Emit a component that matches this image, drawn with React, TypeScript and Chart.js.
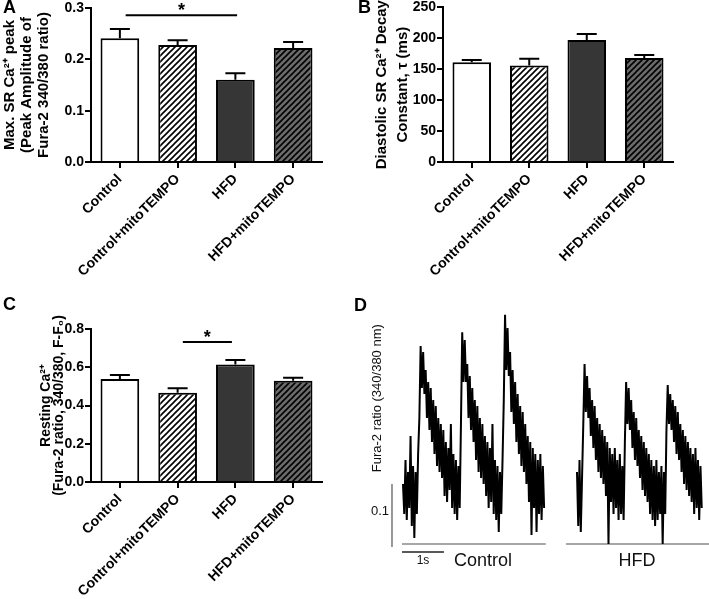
import React, { useEffect, useRef } from "react";
import { Chart, registerables } from "chart.js";

Chart.register(...registerables);
Chart.defaults.font.family = "'Liberation Sans', Arial, Helvetica, sans-serif";
Chart.defaults.color = "#000";

// ---------------- data ----------------
const categories = ["Control", "Control+mitoTEMPO", "HFD", "HFD+mitoTEMPO"];

const peakMeans = [0.241, 0.228, 0.16, 0.222];
const peakSems = [0.018, 0.009, 0.013, 0.012];

const tauMeans = [161, 156, 197, 168];
const tauSems = [4, 11, 10, 5];

const restMeans = [0.538, 0.467, 0.615, 0.53];
const restSems = [0.021, 0.023, 0.023, 0.015];

// significance brackets (category index positions, value)
const peakSig = { from: 0.1, to: 2.03, y: 0.286 };
const restSig = { from: 1.09, to: 1.94, y: 0.732 };

// Fura-2 ratio traces (ratio units above the trace baseline), sampled every 0.03 s
const sampleInterval = 0.03;
const controlTrace = [
  0.10, 0.05, 0.14, 0.04, 0.12, 0.06, 0.18, 0.03, 0.13, 0.01, 0.12, 0.05, 0.15,
  0.21, 0.33,
  0.26, 0.32, 0.25,
  0.29, 0.21, 0.27, 0.19, 0.26,
  0.17, 0.24, 0.15, 0.23, 0.13, 0.21, 0.12, 0.2, 0.11,
  0.19, 0.08, 0.17, 0.07, 0.16, 0.09, 0.2, 0.06,
  0.15, 0.05, 0.14, 0.04, 0.13, 0.06,
  0.2, 0.353,
  0.27, 0.34, 0.27,
  0.3, 0.21, 0.28, 0.19, 0.26,
  0.17, 0.24, 0.14, 0.23, 0.12, 0.21, 0.11, 0.2, 0.1,
  0.18, 0.08, 0.17, 0.06, 0.16, 0.07, 0.2, 0.05,
  0.14, 0.04, 0.13, 0.02, 0.12, 0.05, 0.14,
  0.24, 0.382,
  0.29, 0.36, 0.28,
  0.32, 0.22, 0.29, 0.2, 0.27,
  0.17, 0.25, 0.15, 0.23, 0.13, 0.22, 0.12, 0.2, 0.1,
  0.18, 0.07, 0.17, 0.015, 0.16, 0.06, 0.15, 0.02,
  0.14, 0.05, 0.15, 0.04, 0.13, 0.06,
];
const hfdTrace = [
  0.12, 0.03, 0.14, 0.02, 0.11,
  0.2, 0.3,
  0.22, 0.28, 0.21,
  0.26, 0.18, 0.24, 0.16, 0.23,
  0.14, 0.21, 0.12, 0.2, 0.11, 0.19, 0.1, 0.18, 0.08,
  0.17, 0.0, 0.16, 0.07, 0.15, 0.05, 0.16, 0.06,
  0.14, 0.04, 0.15, 0.05, 0.13, 0.04,
  0.17, 0.27,
  0.2, 0.26, 0.19,
  0.24, 0.16, 0.22, 0.14, 0.21,
  0.13, 0.19, 0.11, 0.18, 0.09, 0.17, 0.08, 0.16, 0.07,
  0.15, 0.05, 0.14, 0.04, 0.13, 0.03, 0.14, 0.04, 0.12, 0.05, 0.13,
  0.0,
  0.12, 0.05, 0.19,
  0.265,
  0.2, 0.25, 0.19,
  0.24, 0.17, 0.23, 0.15, 0.22,
  0.14, 0.2, 0.12, 0.19, 0.1, 0.18, 0.09, 0.17, 0.08,
  0.16, 0.07, 0.15, 0.05, 0.16, 0.06, 0.14, 0.04, 0.13, 0.06,
];
const hfdStart = 4.143; // s, where the HFD record is placed on the shared time axis
const scaleBarRatio = 0.1;
const scaleBarTime = 1;

// ---------------- helpers ----------------
const FONT = "'Liberation Sans', Arial, Helvetica, sans-serif";

function hatch(bg: string): CanvasPattern | string {
  const s = 6;
  const c = document.createElement("canvas");
  c.width = s;
  c.height = s;
  const g = c.getContext("2d");
  if (!g) return bg;
  g.fillStyle = bg;
  g.fillRect(0, 0, s, s);
  g.strokeStyle = "#000";
  g.lineWidth = 1.6;
  g.beginPath();
  g.moveTo(0, s);
  g.lineTo(s, 0);
  g.moveTo(-1, 1);
  g.lineTo(1, -1);
  g.moveTo(s - 1, s + 1);
  g.lineTo(s + 1, s - 1);
  g.stroke();
  return g.createPattern(c, "repeat") || bg;
}

type Area = { left: number; top: number; right: number; bottom: number };
type Sig = { from: number; to: number; y: number };
type BarSpec = {
  width: number;
  height: number;
  area: Area;
  yMax: number;
  yStep: number;
  decimals: number;
  means: number[];
  sems: number[];
  title: string[];
  titleSize: number;
  titleLine: number;
  titlePad: number;
  sig?: Sig;
};

function makeBarConfig(p: BarSpec): any {
  const fills = ["#ffffff", hatch("#ffffff"), "#363636", hatch("#6b6b6b")];
  const axisGrid = {
    display: true,
    drawOnChartArea: false,
    drawTicks: true,
    tickLength: 6,
    color: "#000",
    lineWidth: 2,
  };
  const errorPlugin = {
    id: "errbars",
    afterDatasetsDraw(chart: any) {
      const { ctx } = chart;
      const ys = chart.scales.y;
      const meta = chart.getDatasetMeta(0);
      ctx.save();
      ctx.strokeStyle = "#000";
      ctx.lineWidth = 2;
      meta.data.forEach((bar: any, i: number) => {
        const y0 = ys.getPixelForValue(p.means[i]);
        const y1 = ys.getPixelForValue(p.means[i] + p.sems[i]);
        ctx.beginPath();
        ctx.moveTo(bar.x, y0);
        ctx.lineTo(bar.x, y1);
        ctx.moveTo(bar.x - 10, y1);
        ctx.lineTo(bar.x + 10, y1);
        ctx.stroke();
      });
      ctx.restore();
    },
  };
  const sigPlugin = {
    id: "sig",
    afterDraw(chart: any) {
      if (!p.sig) return;
      const { ctx } = chart;
      const xs = chart.scales.x;
      const ys = chart.scales.y;
      const x0 = xs.getPixelForValue(p.sig.from);
      const x1 = xs.getPixelForValue(p.sig.to);
      const y = ys.getPixelForValue(p.sig.y);
      ctx.save();
      ctx.strokeStyle = "#000";
      ctx.lineWidth = 2;
      ctx.beginPath();
      ctx.moveTo(x0, y);
      ctx.lineTo(x1, y);
      ctx.stroke();
      ctx.fillStyle = "#000";
      ctx.font = `bold 18px ${FONT}`;
      ctx.textAlign = "center";
      ctx.textBaseline = "alphabetic";
      ctx.fillText("*", (x0 + x1) / 2, y + 1);
      ctx.restore();
    },
  };
  return {
    type: "bar",
    data: {
      labels: categories,
      datasets: [
        {
          data: p.means,
          backgroundColor: fills,
          borderColor: "#000",
          borderWidth: 2,
          borderSkipped: "start",
          barPercentage: 0.67,
          categoryPercentage: 1,
        },
      ],
    },
    options: {
      animation: false,
      responsive: false,
      maintainAspectRatio: false,
      layout: {
        padding: { left: 0, top: p.area.top, right: p.width - p.area.right, bottom: 0 },
      },
      plugins: {
        legend: { display: false },
        tooltip: { enabled: false },
        title: { display: false },
      },
      scales: {
        x: {
          type: "category",
          offset: true,
          grid: { ...axisGrid, offset: false },
          border: { display: true, color: "#000", width: 2 },
          ticks: {
            color: "#000",
            font: { size: 14, weight: "bold" },
            minRotation: 45,
            maxRotation: 45,
            autoSkip: false,
            padding: 3,
          },
          afterFit: (s: any) => {
            s.height = p.height - p.area.bottom;
          },
        },
        y: {
          min: 0,
          max: p.yMax,
          grid: axisGrid,
          border: { display: true, color: "#000", width: 2 },
          ticks: {
            stepSize: p.yStep,
            color: "#000",
            font: { size: 14, weight: "bold", lineHeight: 0.9 },
            padding: 1,
            callback: (v: any) => Number(v).toFixed(p.decimals),
          },
          title: {
            display: true,
            text: p.title,
            color: "#000",
            font: { size: p.titleSize, weight: "bold", lineHeight: `${p.titleLine}px` },
            padding: { top: p.titlePad, bottom: 0 },
          },
          afterFit: (s: any) => {
            s.width = p.area.left;
          },
        },
      },
    },
    plugins: [errorPlugin, sigPlugin],
  };
}

function makeTraceConfig(): any {
  const line = (data: any[], color: string, width: number) => ({
    data,
    borderColor: color,
    borderWidth: width,
    pointRadius: 0,
    tension: 0,
    fill: false,
  });
  const textPlugin = {
    id: "traceText",
    afterDraw(chart: any) {
      const { ctx } = chart;
      const xs = chart.scales.x;
      const ys = chart.scales.y;
      const X = (v: number) => xs.getPixelForValue(v);
      const Y = (v: number) => ys.getPixelForValue(v);
      ctx.save();
      ctx.fillStyle = "#111";
      ctx.textAlign = "center";
      ctx.textBaseline = "middle";
      ctx.font = `18px ${FONT}`;
      ctx.fillText("Control", X(1.905), Y(-0.0283));
      ctx.fillText("HFD", X(5.571), Y(-0.0283));
      ctx.font = `12px ${FONT}`;
      ctx.fillText("1s", X(0.476), Y(-0.0283));
      ctx.font = `13px ${FONT}`;
      ctx.fillText("0.1", X(-0.548), Y(0.055));
      ctx.translate(X(-0.619), Y(0.243));
      ctx.rotate(-Math.PI / 2);
      ctx.fillText("Fura-2 ratio (340/380 nm)", 0, 0);
      ctx.restore();
    },
  };
  return {
    type: "line",
    data: {
      datasets: [
        line(controlTrace.map((v, i) => ({ x: i * sampleInterval, y: v })), "#000", 2),
        line(hfdTrace.map((v, i) => ({ x: hfdStart + i * sampleInterval, y: v })), "#000", 2),
        line([{ x: -0.024, y: 0 }, { x: 3.4, y: 0 }], "#8a8a8a", 1.5),
        line([{ x: 3.88, y: 0 }, { x: 7.4, y: 0 }], "#8a8a8a", 1.5),
        line([{ x: -0.262, y: -0.005 }, { x: -0.262, y: scaleBarRatio }], "#555", 1.2),
        line([{ x: -0.024, y: -0.0133 }, { x: -0.024 + scaleBarTime, y: -0.0133 }], "#222", 1.5),
      ],
    },
    options: {
      animation: false,
      responsive: false,
      maintainAspectRatio: false,
      layout: { padding: 0 },
      plugins: { legend: { display: false }, tooltip: { enabled: false } },
      scales: {
        x: { type: "linear", min: -0.976, max: 7.286, display: false },
        y: { type: "linear", min: -0.0917, max: 0.4067, display: false },
      },
    },
    plugins: [textPlugin],
  };
}

function ChartBox(props: { left: number; top: number; width: number; height: number; make: () => any }) {
  const ref = useRef<HTMLCanvasElement | null>(null);
  useEffect(() => {
    if (!ref.current) return;
    const chart = new Chart(ref.current, props.make());
    return () => chart.destroy();
  }, []);
  return (
    <canvas
      ref={ref}
      width={props.width}
      height={props.height}
      style={{ position: "absolute", left: props.left, top: props.top, width: props.width, height: props.height }}
    />
  );
}

const letterStyle = (left: number, top: number): React.CSSProperties => ({
  position: "absolute",
  left,
  top,
  font: `bold 18px ${FONT}`,
  lineHeight: "18px",
  color: "#000",
});

export default function App() {
  return (
    <div style={{ position: "absolute", left: 0, top: 0, width: 709, height: 599, background: "#fff", overflow: "hidden" }}>
      <ChartBox
        left={0}
        top={0}
        width={340}
        height={300}
        make={() =>
          makeBarConfig({
            width: 340,
            height: 300,
            area: { left: 91, top: 8, right: 322, bottom: 162 },
            yMax: 0.3,
            yStep: 0.1,
            decimals: 1,
            means: peakMeans,
            sems: peakSems,
            title: ["Max. SR Ca²⁺ peak", "(Peak Amplitude of", "Fura-2 340/380 ratio)"],
            titleSize: 15,
            titleLine: 16.7,
            titlePad: 2,
            sig: peakSig,
          })
        }
      />
      <ChartBox
        left={360}
        top={0}
        width={349}
        height={300}
        make={() =>
          makeBarConfig({
            width: 349,
            height: 300,
            area: { left: 83, top: 7, right: 313, bottom: 162 },
            yMax: 250,
            yStep: 50,
            decimals: 0,
            means: tauMeans,
            sems: tauSems,
            title: ["Diastolic SR Ca²⁺ Decay", "Constant, τ (ms)"],
            titleSize: 15,
            titleLine: 21,
            titlePad: 11.5,
          })
        }
      />
      <ChartBox
        left={0}
        top={300}
        width={340}
        height={299}
        make={() =>
          makeBarConfig({
            width: 340,
            height: 299,
            area: { left: 91, top: 29, right: 322, bottom: 182 },
            yMax: 0.8,
            yStep: 0.2,
            decimals: 1,
            means: restMeans,
            sems: restSems,
            title: ["Resting Ca²⁺", "(Fura-2 ratio, 340/380, F-F₀)"],
            titleSize: 14,
            titleLine: 13.5,
            titlePad: 39,
            sig: restSig,
          })
        }
      />
      <ChartBox left={362} top={300} width={347} height={299} make={makeTraceConfig} />
      <div style={letterStyle(3, -2)}>A</div>
      <div style={letterStyle(358, -2)}>B</div>
      <div style={letterStyle(3, 295)}>C</div>
      <div style={letterStyle(354, 296)}>D</div>
    </div>
  );
}
